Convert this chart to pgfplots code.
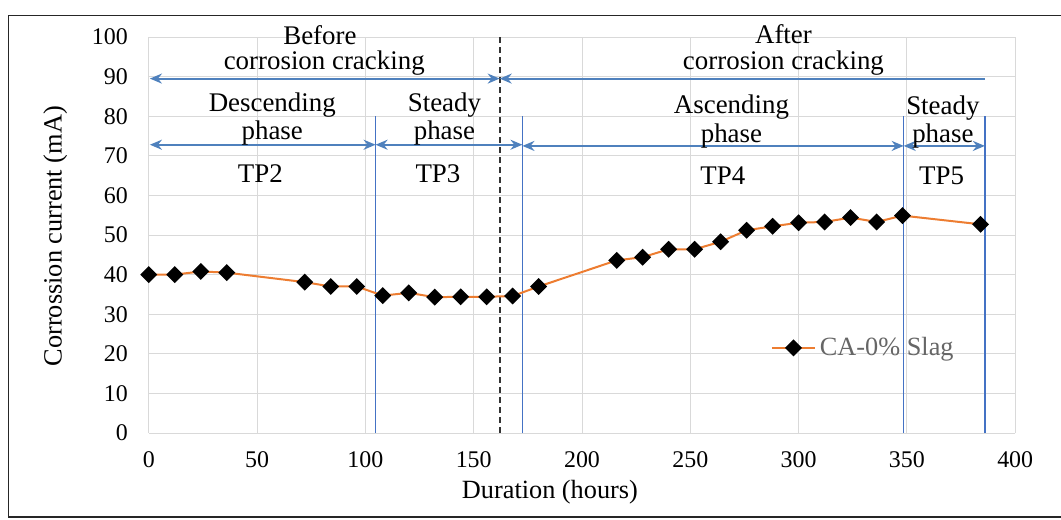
\documentclass[border=0pt]{standalone}
\usepackage{pgfplots}
\pgfplotsset{compat=1.18}
\usepackage{fontspec}
\setmainfont{Liberation Serif}
\usetikzlibrary{arrows.meta}
\definecolor{lineorange}{RGB}{237,125,49}
\definecolor{vblue}{RGB}{68,114,196}
\definecolor{ablue}{RGB}{79,129,189}
\definecolor{gridc}{RGB}{217,217,217}
\begin{document}
\begin{tikzpicture}[x=1bp,y=1bp]
\useasboundingbox (0,0) rectangle (530.5,-259.5);
\draw[line width=0.8bp, black!85] (4.2,-7.7) rectangle (540,-258.4);
\begin{axis}[
  at={(74.4bp,-216.5bp)}, anchor=south west,
  scale only axis, width=433.2bp, height=198bp,
  xmin=0, xmax=400, ymin=0, ymax=100,
  xtick={0,50,...,400}, ytick={0,10,...,100},
  grid=major, major grid style={gridc, line width=0.5bp},
  axis line style={draw=none},
  major tick length=0pt,
  clip=false,
  font=\fontsize{12}{14}\selectfont,
  /pgf/number format/assume math mode=true,
  xticklabel style={yshift=-6bp},
  yticklabel style={xshift=-7bp},
  xlabel={Duration (hours)},
  ylabel={Corrossion current (mA)},
  xlabel style={at={(axis description cs:0.463,-0.149)}, anchor=center, font=\fontsize{13.2}{15}\selectfont},
  ylabel style={at={(axis description cs:-0.108,0.497)}, anchor=center, font=\fontsize{13.2}{15}\selectfont},
  legend style={draw=none, fill=none, at={(axis cs:287,21.5)}, anchor=west, font=\fontsize{13.2}{15}\selectfont\color{black!60}, inner sep=0pt, row sep=0pt},
  legend cell align=left,
  legend image code/.code={\draw[mark repeat=2,mark phase=2,#1] plot coordinates {(0cm,0cm) (0.38cm,0cm) (0.76cm,0cm)};},
]
% reference lines
\draw[vblue, line width=0.7bp] (axis cs:104.7,0) -- (axis cs:104.7,80);
\draw[vblue, line width=0.7bp] (axis cs:172.5,0) -- (axis cs:172.5,80);
\draw[vblue, line width=0.7bp] (axis cs:348.5,0) -- (axis cs:348.5,80);
\draw[vblue, line width=0.7bp] (axis cs:386,0) -- (axis cs:386,80);
\draw[black!80, line width=0.8bp, dash pattern=on 3bp off 2bp] (axis cs:162,0) -- (axis cs:162,100);
% arrows
\begin{scope}[ablue, line width=1bp]
\draw[{Stealth[length=6bp,width=5bp]}-{Stealth[length=6bp,width=5bp]}] (axis cs:0.5,89.5) -- (axis cs:162,89.5);
\draw[{Stealth[length=6bp,width=5bp]}-] (axis cs:162,89.5) -- (axis cs:386,89.5);
\draw[{Stealth[length=6bp,width=5bp]}-{Stealth[length=6bp,width=5bp]}] (axis cs:0.5,72.8) -- (axis cs:104.7,72.8);
\draw[{Stealth[length=6bp,width=5bp]}-{Stealth[length=6bp,width=5bp]}] (axis cs:104.7,72.8) -- (axis cs:172.5,72.8);
\draw[{Stealth[length=6bp,width=5bp]}-{Stealth[length=6bp,width=5bp]}] (axis cs:172.5,72.5) -- (axis cs:348.5,72.5);
\draw[{Stealth[length=6bp,width=5bp]}-{Stealth[length=6bp,width=5bp]}] (axis cs:348.5,72.5) -- (axis cs:386,72.5);
\end{scope}
% texts
\begin{scope}[every node/.style={font=\fontsize{13.5}{15}\selectfont, inner sep=0pt}]
\node at (axis cs:79,100.5) {Before};
\node at (axis cs:81,93.3) {corrosion cracking};
\node at (axis cs:293,100.8) {After};
\node at (axis cs:293,93.5) {corrosion cracking};
\node at (axis cs:57,82.8) {Descending};
\node at (axis cs:57,75.8) {phase};
\node at (axis cs:136.5,82.8) {Steady};
\node at (axis cs:136.5,75.8) {phase};
\node at (axis cs:269,82.2) {Ascending};
\node at (axis cs:269,75) {phase};
\node at (axis cs:366.6,82) {Steady};
\node at (axis cs:366.6,75) {phase};
\node at (axis cs:51.5,65.4) {TP2};
\node at (axis cs:133.5,65.4) {TP3};
\node at (axis cs:265,65) {TP4};
\node at (axis cs:366,65) {TP5};
\end{scope}
\addplot[lineorange, line width=1bp, mark=square*, mark size=2.5bp,
  mark options={rotate=45, fill=black, draw=black, solid}]
  coordinates {
  (0,40.0) (12,40.0) (24,40.8) (36,40.5) (72,38.1) (84,37.0) (96,37.0)
  (108,34.7) (120,35.4) (132,34.3) (144,34.4) (156,34.4) (168,34.6)
  (180,37.0) (216,43.6) (228,44.4) (240,46.4) (252,46.4) (264,48.3)
  (276,51.2) (288,52.2) (300,53.1) (312,53.3) (324,54.4) (336,53.3)
  (348,54.9) (384,52.7)
  };
\addlegendentry{CA-0\% Slag}
\end{axis}
\end{tikzpicture}
\end{document}
